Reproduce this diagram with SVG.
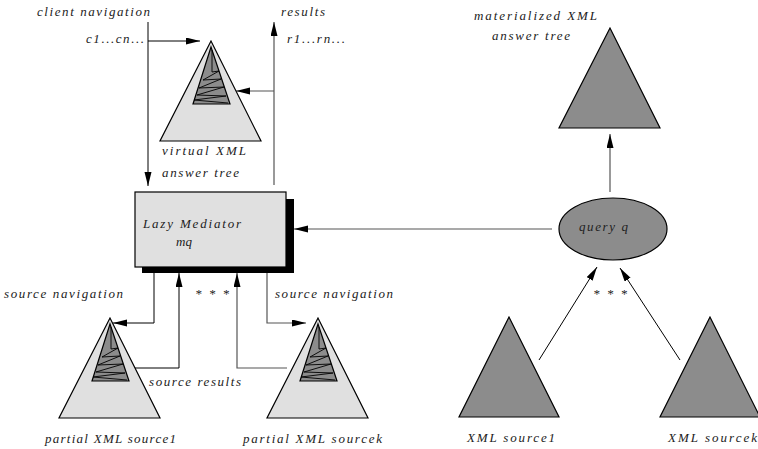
<svg xmlns="http://www.w3.org/2000/svg" xmlns:xlink="http://www.w3.org/1999/xlink" width="758" height="449" viewBox="0 0 758 449">
<style>
  text { font-family: "Liberation Serif", "DejaVu Serif", serif; font-style: italic; font-size: 13px; fill: #222; }
  .ln { fill: none; stroke: #000; stroke-width: 1; }
  .lg { fill: none; stroke: #555; stroke-width: 1.2; }
  .light { fill: #e0e0e0; stroke: #000; stroke-width: 1.2; }
  .dark { fill: #8c8c8c; stroke: #000; stroke-width: 1.2; }
  .zz { fill: none; stroke: #000; stroke-width: 0.9; }
</style>
<defs>
  <marker id="ah" markerUnits="userSpaceOnUse" markerWidth="15" markerHeight="8" refX="14" refY="3.5" orient="auto">
    <path d="M0,0 L14,3.5 L0,7 z" fill="#000"/>
  </marker>
  <g id="vtree">
    <polygon class="light" points="211,41 160,141 261,141"/>
    <polygon class="dark" points="211,47 193,104 230,104"/>
    <polyline class="zz" points="212,50 212,72 219,71 203,80 221,79 199,88 224,87 197,95 226,96 194,100 228,103"/>
  </g>
</defs>
<rect width="758" height="449" fill="#fff"/>

<g id="connectors">
  <line class="ln" x1="148" y1="22" x2="148" y2="186" marker-end="url(#ah)"/>
  <line class="ln" x1="148" y1="41" x2="200" y2="41" marker-end="url(#ah)"/>
  <line class="lg" x1="274" y1="185" x2="274" y2="22" marker-end="url(#ah)"/>
  <line class="lg" x1="274" y1="91" x2="236" y2="91" marker-end="url(#ah)"/>
  <line class="lg" x1="552" y1="229" x2="294" y2="229" marker-end="url(#ah)"/>
  <line class="lg" x1="610" y1="192" x2="610" y2="134" marker-end="url(#ah)"/>
  <path class="ln" d="M154,267 V323 H113" marker-end="url(#ah)"/>
  <path class="ln" d="M130,368 H179 V273" marker-end="url(#ah)"/>
  <path class="lg" d="M287,368 H237 V273" marker-end="url(#ah)"/>
  <path class="lg" d="M267,267 V323 H306" marker-end="url(#ah)"/>
  <line class="ln" x1="539" y1="360" x2="597" y2="267" marker-end="url(#ah)"/>
  <line class="ln" x1="680" y1="360" x2="620" y2="268" marker-end="url(#ah)"/>
</g>

<g id="labels">
  <text x="37" y="16" textLength="113" lengthAdjust="spacing">client navigation</text>
  <text x="86" y="43" textLength="58" lengthAdjust="spacing">c1...cn...</text>
  <text x="281" y="16" textLength="44" lengthAdjust="spacing">results</text>
  <text x="287" y="43" textLength="58" lengthAdjust="spacing">r1...rn...</text>
  <text x="4" y="298" textLength="119" lengthAdjust="spacing">source navigation</text>
  <text x="275" y="298" textLength="118" lengthAdjust="spacing">source navigation</text>
  <text x="195" y="298" textLength="34" lengthAdjust="spacing" fill="#555">* * *</text>
  <text x="593" y="298" textLength="34" lengthAdjust="spacing" fill="#555">* * *</text>
  <text x="149" y="386" textLength="92" lengthAdjust="spacing">source results</text>
</g>

<g id="virtual-tree">
  <use xlink:href="#vtree"/>
  <text x="162" y="155" textLength="84" lengthAdjust="spacing">virtual XML</text>
  <text x="162" y="177" textLength="77" lengthAdjust="spacing">answer tree</text>
</g>

<g id="lazy-mediator">
  <rect x="142" y="199" width="152" height="74" fill="#000"/>
  <rect x="135" y="192" width="151" height="75" fill="#e0e0e0" stroke="#000" stroke-width="1.2"/>
  <text x="143" y="228" textLength="98" lengthAdjust="spacing">Lazy Mediator</text>
  <text x="176" y="246">mq</text>
</g>

<g id="partial-source1">
  <use xlink:href="#vtree" transform="translate(-101,277)"/>
  <text x="45" y="443" textLength="131" lengthAdjust="spacing">partial XML source1</text>
</g>

<g id="partial-sourcek">
  <use xlink:href="#vtree" transform="translate(107,277)"/>
  <text x="243" y="443" textLength="139" lengthAdjust="spacing">partial XML sourcek</text>
</g>

<g id="query">
  <ellipse class="dark" cx="613" cy="229" rx="54" ry="31"/>
  <text x="579" y="231" textLength="49" lengthAdjust="spacing">query q</text>
</g>

<g id="materialized-tree">
  <polygon class="dark" points="610,28 559,128 660,128"/>
  <text x="474" y="20" textLength="123" lengthAdjust="spacing">materialized XML</text>
  <text x="492" y="40" textLength="78" lengthAdjust="spacing">answer tree</text>
</g>

<g id="xml-source1">
  <polygon class="dark" points="509,317 459,417 559,417"/>
  <text x="467" y="442" textLength="88" lengthAdjust="spacing">XML source1</text>
</g>

<g id="xml-sourcek">
  <polygon class="dark" points="710,317 660,417 760,417"/>
  <text x="668" y="442" textLength="89" lengthAdjust="spacing">XML sourcek</text>
</g>
</svg>
